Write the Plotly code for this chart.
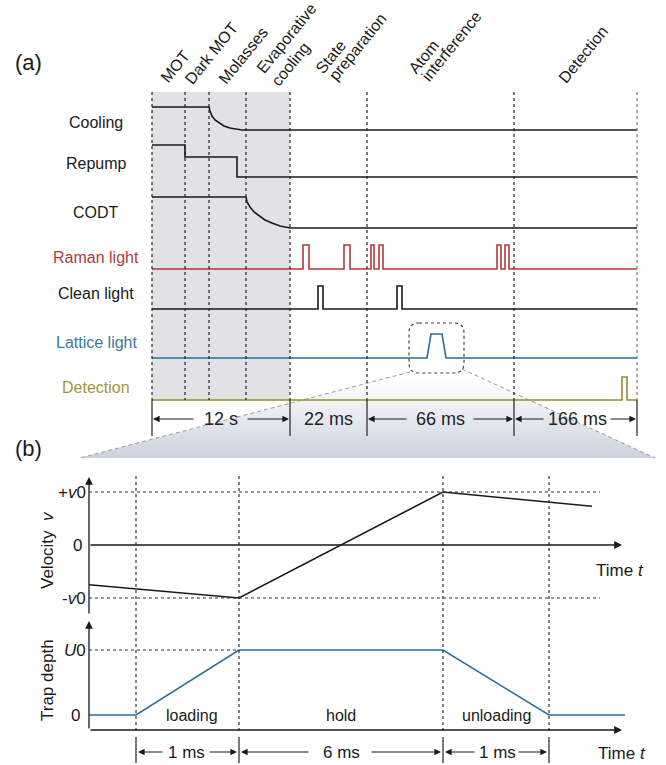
import plotly.graph_objects as go

W, H = 666, 765
FONT = "Liberation Sans, Arial, sans-serif"
BLACK = "#1a1a1a"
RED = "#b5373b"
BLUE = "#2a6f96"
OLIVE = "#9a8a2e"

# ---------------- (a) experimental sequence ----------------
phase_edges = [152, 185, 209, 246, 290, 367, 514, 637]
# stage names, one entry per printed line (two-line names are left aligned)
phase_name_lines = ["MOT", "Dark MOT", "Molasses", "Evaporative", "cooling",
                    "State", "preparation", "Atom", "interference", "Detection"]
phase_line_xy = [(175, 66), (211, 53), (243, 55), (286, 38), (290, 64),
                 (330, 57), (357, 47), (423, 57), (451, 46), (583, 54)]

channel_names = ["Cooling", "Repump", "CODT", "Raman light",
                 "Clean light", "Lattice light", "Detection"]
channel_colors = [BLACK, BLACK, BLACK, RED, BLACK, BLUE, OLIVE]
channel_label_y = [122, 163, 212, 257, 293, 342, 387]
channel_base = [130, 177, 228, 269, 309, 358, 400]

# level above the channel baseline along the timeline
cooling_t = [152, 209, 210, 212, 215, 219, 224, 230, 236, 242, 637]
cooling_lvl = [23, 23, 19, 14, 10, 7, 4, 2, 1, 0, 0]
repump_t = [152, 185, 185, 237, 237, 637]
repump_lvl = [32, 32, 20, 20, 0, 0]
codt_t = [152, 246, 247, 250, 254, 259, 265, 272, 280, 290, 637]
codt_lvl = [31, 31, 26, 21, 16, 12, 8, 5, 2, 0, 0]

raman_pulses = [(303, 309), (344, 350), (371, 374), (379, 383), (497, 501), (505, 509)]
clean_pulses = [(318, 323), (397, 402)]
detect_pulses = [(622, 627)]
pulse_height = [24, 23, 23]          # Raman, Clean, Detection
lattice_pulse = (427, 431, 442, 446)  # rise start, top start, top end, fall end
lattice_height = 24
timeline_end = 637

segment_edges = [152, 290, 367, 514, 637]
segment_labels = ["12 s", "22 ms", "66 ms", "166 ms"]
segment_label_x = [221, 328, 440, 577]
segment_arrows = [(195, 246), None, (408, 472), (545, 609)]

# ---------------- (b) lattice loading ----------------
b_edges = [136, 239, 443, 549]
velocity_t = [89, 239, 443, 592]
velocity_v = [-0.75, -1.0, 1.0, 0.73]     # in units of v0
trap_t = [89, 136, 239, 443, 549, 625]
trap_u = [0, 0, 1, 1, 0, 0]               # in units of U0
stage_labels = ["loading", "hold", "unloading"]
stage_durations = ["1 ms", "6 ms", "1 ms"]
stage_label_x = [192, 341, 496]
stage_duration_x = [186, 341, 497]
stage_arrows = [(164, 208), (310, 370), (476, 517)]

V_ZERO, V_SCALE = 545, 53
U_ZERO, U_SCALE = 715, 65


def vy(v):
    return V_ZERO - V_SCALE * v


def uy(u):
    return U_ZERO - U_SCALE * u


def pulse_train(pulses, base, height, start=152, end=timeline_end):
    xs, ys = [start], [base]
    for a, b in pulses:
        xs += [a, a, b, b]
        ys += [base, base - height, base - height, base]
    xs.append(end)
    ys.append(base)
    return xs, ys


fig = go.Figure()

# zoom-out funnel from the lattice pulse to panel (b)
funnel_x = [410, 462, 655, 80, 410]
funnel_y = [372, 369, 458, 458, 372]
fig.add_trace(go.Scatter(
    x=funnel_x, y=funnel_y, mode="lines", fill="toself",
    line=dict(width=0, color="rgba(0,0,0,0)"),
    fillgradient=dict(type="vertical", start=380, stop=458,
                      colorscale=[[0, "rgba(255,255,255,1)"], [1, "#ccd2dd"]]),
    hoverinfo="skip", showlegend=False))
for (xa, ya), (xb, yb) in [((410, 372), (80, 458)), ((462, 369), (655, 458))]:
    fig.add_trace(go.Scatter(x=[xa, xb], y=[ya, yb], mode="lines",
                             line=dict(color="#9a9a9a", width=1, dash="4px,3px"),
                             hoverinfo="skip", showlegend=False))

shapes = []
# shaded preparation stages
shapes.append(dict(type="rect", x0=phase_edges[0], x1=phase_edges[4], y0=92, y1=400,
                   fillcolor="#e1e2e4", line=dict(width=0), layer="below"))
for x in phase_edges:
    shapes.append(dict(type="line", x0=x, x1=x, y0=92, y1=400,
                       line=dict(color="#222" if x != 637 else "#777", width=1.2, dash="3px,3px"),
                       layer="above"))

# channel traces
line_w = 1.6
fig.add_trace(go.Scatter(x=cooling_t, y=[channel_base[0] - v for v in cooling_lvl],
                         mode="lines", line=dict(color=BLACK, width=line_w)))
fig.add_trace(go.Scatter(x=repump_t, y=[channel_base[1] - v for v in repump_lvl],
                         mode="lines", line=dict(color=BLACK, width=line_w)))
fig.add_trace(go.Scatter(x=codt_t, y=[channel_base[2] - v for v in codt_lvl],
                         mode="lines", line=dict(color=BLACK, width=line_w)))
rx, ry = pulse_train(raman_pulses, channel_base[3], pulse_height[0])
fig.add_trace(go.Scatter(x=rx, y=ry, mode="lines", line=dict(color=RED, width=line_w)))
cx, cy = pulse_train(clean_pulses, channel_base[4], pulse_height[1])
fig.add_trace(go.Scatter(x=cx, y=cy, mode="lines", line=dict(color=BLACK, width=line_w)))
lb = channel_base[5]
a0, a1, a2, a3 = lattice_pulse
fig.add_trace(go.Scatter(x=[152, a0, a1, a2, a3, timeline_end],
                         y=[lb, lb, lb - lattice_height, lb - lattice_height, lb, lb],
                         mode="lines", line=dict(color=BLUE, width=line_w)))
dx, dy = pulse_train(detect_pulses, channel_base[6], pulse_height[2])
fig.add_trace(go.Scatter(x=dx, y=dy, mode="lines", line=dict(color=OLIVE, width=line_w)))

# dashed rounded box around the lattice pulse
bx0, bx1, by0, by1, r = 409, 464, 323, 373, 10
box_path = (f"M {bx0+r},{by0} L {bx1-r},{by0} Q {bx1},{by0} {bx1},{by0+r} "
            f"L {bx1},{by1-r} Q {bx1},{by1} {bx1-r},{by1} L {bx0+r},{by1} "
            f"Q {bx0},{by1} {bx0},{by1-r} L {bx0},{by0+r} Q {bx0},{by0} {bx0+r},{by0} Z")
shapes.append(dict(type="path", path=box_path, line=dict(color="#444", width=1.2, dash="3px,3px")))

# duration ticks for (a)
for x in segment_edges:
    shapes.append(dict(type="line", x0=x, x1=x, y0=400, y1=436,
                       line=dict(color="#222", width=1.2), layer="above"))

# ---------------- panel (b) ----------------
for x in b_edges:
    shapes.append(dict(type="line", x0=x, x1=x, y0=476, y1=731,
                       line=dict(color="#222", width=1.1, dash="3px,3px")))
    shapes.append(dict(type="line", x0=x, x1=x, y0=737, y1=763,
                       line=dict(color="#222", width=1.2)))
for v in (1, -1):
    shapes.append(dict(type="line", x0=89, x1=600, y0=vy(v), y1=vy(v),
                       line=dict(color="#333", width=1.1, dash="3px,3px")))
shapes.append(dict(type="line", x0=89, x1=239, y0=uy(1), y1=uy(1),
                   line=dict(color="#333", width=1.1, dash="3px,3px")))

fig.add_trace(go.Scatter(x=velocity_t, y=[vy(v) for v in velocity_v], mode="lines",
                         line=dict(color=BLACK, width=1.6)))
fig.add_trace(go.Scatter(x=trap_t, y=[uy(u) for u in trap_u], mode="lines",
                         line=dict(color=BLUE, width=1.6)))

ann = []


def text(x, y, s, size=16, color=BLACK, angle=0, xanchor="center", family=FONT):
    ann.append(dict(x=x, y=y, text=s, showarrow=False, textangle=angle,
                    xanchor=xanchor, yanchor="middle",
                    font=dict(family=family, size=size, color=color)))


def arrow(x_tail, y_tail, x_head, y_head, width=1.1):
    ann.append(dict(x=x_head, y=y_head, ax=x_tail, ay=y_tail, xref="x", yref="y",
                    axref="x", ayref="y", text="", showarrow=True,
                    arrowhead=2, arrowsize=1.2, arrowwidth=width, arrowcolor=BLACK))


text(28, 62, "(a)", size=22)
text(28, 448, "(b)", size=22)

for name, (x, y) in zip(phase_name_lines, phase_line_xy):
    text(x, y, name, size=16, angle=-51)

label_colors = [BLACK, BLACK, BLACK, "#b23b3e", BLACK, "#3a79a0", "#a3953a"]
for name, y, c in zip(channel_names, channel_label_y, label_colors):
    text(96, y, name, size=16, color=c)

for i, lab in enumerate(segment_labels):
    text(segment_label_x[i], 419, lab, size=18, color="#222")
    if segment_arrows[i]:
        la, ra = segment_arrows[i]
        arrow(la, 419, segment_edges[i] + 1, 419)
        arrow(ra, 419, segment_edges[i + 1] - 1, 419)

# axes of panel (b)
arrow(89, 615, 89, 477, width=1.3)
arrow(89, vy(0), 622, vy(0), width=1.3)
arrow(89, 730, 89, 621, width=1.3)
arrow(89, 730, 622, 730, width=1.3)

text(88, vy(1), "+<i>v</i>0", size=17, xanchor="right")
text(77, vy(0), "0", size=17, xanchor="center")
text(88, vy(-1), "-<i>v</i>0", size=17, xanchor="right")
text(88, uy(1), "<i>U</i>0", size=17, xanchor="right")
text(75, uy(0), "0", size=17, xanchor="center")
text(47, 550, "Velocity  <i>v</i>", size=17, angle=-90)
text(47, 680, "Trap depth", size=17, angle=-90)
text(620, 570, "Time <i>t</i>", size=17)
text(622, 753, "Time <i>t</i>", size=17)

for i, lab in enumerate(stage_labels):
    text(stage_label_x[i], 715, lab, size=16)
    text(stage_duration_x[i], 752, stage_durations[i], size=17)
    la, ra = stage_arrows[i]
    arrow(la, 752, b_edges[i] + 2, 752)
    arrow(ra, 752, b_edges[i + 1] - 2, 752)

fig.update_traces(hoverinfo="skip", showlegend=False)
fig.update_layout(
    width=W, height=H, margin=dict(l=0, r=0, t=0, b=0),
    paper_bgcolor="white", plot_bgcolor="white",
    xaxis=dict(range=[0, W], visible=False, fixedrange=True),
    yaxis=dict(range=[H, 0], visible=False, fixedrange=True),
    shapes=shapes, annotations=ann, showlegend=False,
)

fig.write_html("out.html")
